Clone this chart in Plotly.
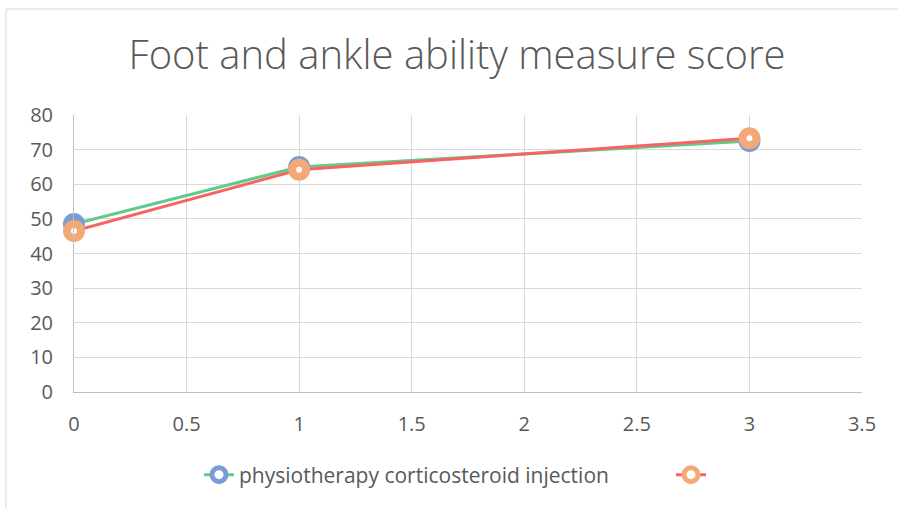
import plotly.graph_objects as go

weeks = [0, 1, 3]
physio_scores = [48.5, 65.0, 72.5]
cortico_scores = [46.5, 64.2, 73.3]
series_names = ["physiotherapy corticosteroid injection", " "]
title_text = "Foot and ankle ability measure score"

W, H = 898, 509
L, R, T, B = 74, 36, 115, 117
pw, ph = W - L - R, H - T - B

fig = go.Figure()
for ys, lc, mc, nm, lg in [
    (physio_scores, "#5ecb8b", "#7b9bd6", series_names[0], "legend"),
    (cortico_scores, "#f96262", "#f3a877", series_names[1], "legend2"),
]:
    fig.add_trace(go.Scatter(
        x=weeks, y=ys, mode="lines+markers", name=nm, legend=lg,
        line=dict(color=lc, width=3),
        marker=dict(symbol="circle", size=14, color="white",
                    line=dict(color=mc, width=8)),
        cliponaxis=False,
    ))

leg_common = dict(xanchor="left", yanchor="middle",
                  y=-(475 - (T + ph)) / ph, font=dict(size=21, color="#595959"),
                  bgcolor="rgba(0,0,0,0)")

fig.update_layout(
    width=W, height=H,
    margin=dict(l=L, r=R, t=T, b=B, autoexpand=False),
    paper_bgcolor="white", plot_bgcolor="white",
    font=dict(family="Open Sans", color="#595959", size=21),
    title=dict(text=title_text, x=457 / W, xanchor="center", y=1 - 55 / H, yanchor="middle",
               font=dict(family="Open Sans", size=40, color="#595959", weight=300)),
    xaxis=dict(range=[0, 3.5], dtick=0.5, showgrid=True, gridcolor="#d9d9d9", gridwidth=1,
               zeroline=False, showline=True, linecolor="#bfbfbf", linewidth=1,
               ticks="", tickfont=dict(size=20), ticklabelstandoff=14, fixedrange=True),
    yaxis=dict(range=[0, 80], dtick=10, showgrid=True, gridcolor="#d9d9d9", gridwidth=1,
               zeroline=False, showline=True, linecolor="#bfbfbf", linewidth=1,
               ticks="", tickfont=dict(size=20), ticklabelstandoff=16, fixedrange=True),
    legend=dict(x=(199 - L) / pw, **leg_common),
    legend2=dict(x=(671 - L) / pw, **leg_common),
    showlegend=True,
    shapes=[dict(type="rect", xref="paper", yref="paper",
                 x0=(6 - L) / pw, x1=(W + 10 - L) / pw,
                 y0=-(H + 10 - T - ph) / ph, y1=1 + (T - 9) / ph,
                 line=dict(color="#d9d9d9", width=1), layer="below")],
)

fig.write_html("out.html", config={"displayModeBar": False},
               post_script="document.body.style.margin='0';document.body.style.overflow='hidden';")
